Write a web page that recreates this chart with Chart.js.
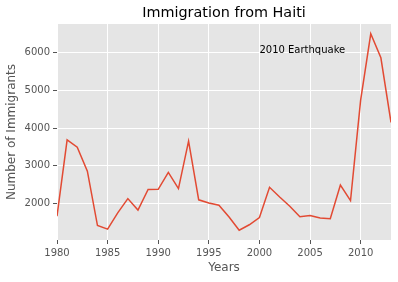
<!DOCTYPE html>
<html>
<head>
<meta charset="utf-8">
<script src="https://cdn.jsdelivr.net/npm/chart.js@4/dist/chart.umd.min.js"></script>
<style>
html,body{margin:0;padding:0;background:#fff;}
#wrap{width:398px;height:282px;position:relative;}
</style>
</head>
<body>
<div id="wrap"><canvas id="c" width="398" height="282"></canvas></div>
<script>
const years = [1980,1981,1982,1983,1984,1985,1986,1987,1988,1989,1990,1991,1992,1993,1994,1995,1996,1997,1998,1999,2000,2001,2002,2003,2004,2005,2006,2007,2008,2009,2010,2011,2012,2013];
const immigrants = [1666,3692,3498,2860,1418,1321,1753,2132,1829,2377,2379,2829,2399,3655,2100,2014,1955,1645,1295,1439,1631,2433,2174,1930,1652,1682,1619,1598,2491,2080,4744,6503,5868,4152];
const xTicks = [1980,1985,1990,1995,2000,2005,2010];
const yTicks = [2000,3000,4000,5000,6000];
const titleText = 'Immigration from Haiti';
const annotation = {x: 2000, y: 6000, text: '2010 Earthquake'};

const FONT = "'DejaVu Sans', sans-serif";
const yMin = 1034.6, yMax = 6763.4;

const bgPlugin = {
  id: 'bg',
  beforeDraw(chart) {
    const {ctx, chartArea: a} = chart;
    ctx.save();
    ctx.fillStyle = '#E5E5E5';
    ctx.fillRect(a.left, a.top, a.right - a.left, a.bottom - a.top);
    ctx.restore();
  },
  afterDraw(chart) {
    const {ctx, chartArea: a, scales} = chart;
    ctx.save();
    ctx.fillStyle = '#000';
    ctx.font = '14.4px ' + FONT;
    ctx.textAlign = 'center';
    ctx.textBaseline = 'middle';
    ctx.fillText(titleText, (a.left + a.right) / 2, 13);
    ctx.font = '10px ' + FONT;
    ctx.textAlign = 'left';
    ctx.textBaseline = 'alphabetic';
    ctx.fillText(annotation.text, scales.x.getPixelForValue(annotation.x), scales.y.getPixelForValue(annotation.y));
    ctx.restore();
  }
};

new Chart(document.getElementById('c'), {
  type: 'line',
  data: {
    datasets: [{
      data: years.map((y, i) => ({x: y, y: immigrants[i]})),
      borderColor: '#E24A33',
      borderWidth: 1.5,
      pointRadius: 0,
      tension: 0,
      fill: false
    }]
  },
  options: {
    responsive: false,
    animation: false,
    devicePixelRatio: 1,
    layout: {padding: {top: 24, right: 7, left: 0, bottom: 0}},
    plugins: {legend: {display: false}, tooltip: {enabled: false}, title: {display: false}},
    scales: {
      x: {
        type: 'linear',
        min: 1980, max: 2013,
        afterBuildTicks(s) { s.ticks = xTicks.map(v => ({value: v})); },
        afterFit(s) { s.height = 42; },
        grid: {color: '#FFFFFF', lineWidth: 1, tickColor: '#555555', tickLength: 4, drawTicks: true},
        border: {display: false},
        ticks: {color: '#555555', font: {family: FONT, size: 10}, padding: 3, maxRotation: 0, callback: v => String(v)},
        title: {display: true, text: 'Years', color: '#555555', font: {family: FONT, size: 12}, padding: {top: 0, bottom: 6.8}}
      },
      y: {
        type: 'linear',
        min: yMin, max: yMax,
        afterBuildTicks(s) { s.ticks = yTicks.map(v => ({value: v})); },
        afterFit(s) { s.width = 57; },
        grid: {color: '#FFFFFF', lineWidth: 1, tickColor: '#555555', tickLength: 4, drawTicks: true},
        border: {display: false},
        ticks: {color: '#555555', font: {family: FONT, size: 10}, padding: 3, callback: v => String(v)},
        title: {display: true, text: 'Number of Immigrants', color: '#555555', font: {family: FONT, size: 12}, padding: {top: 5, bottom: 0}}
      }
    }
  },
  plugins: [bgPlugin]
});
</script>
</body>
</html>
